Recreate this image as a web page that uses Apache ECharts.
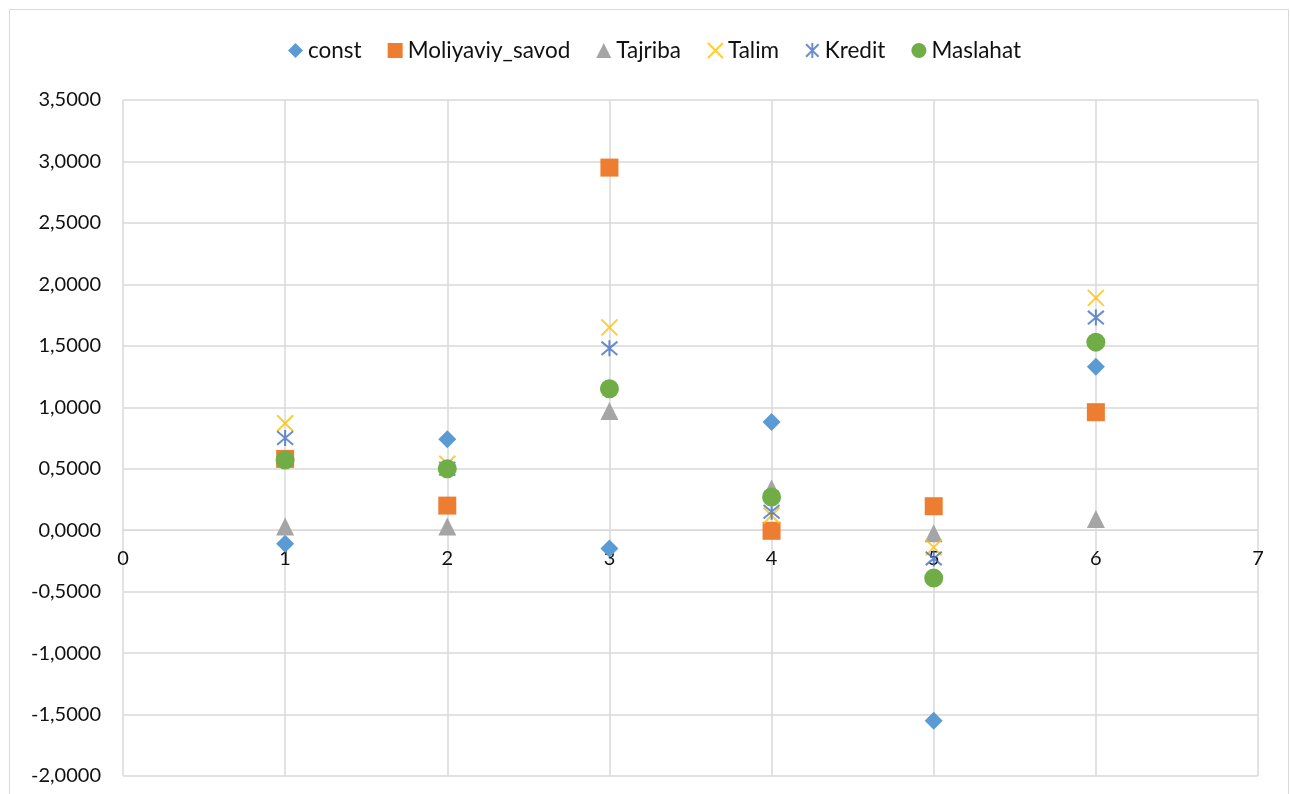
<!DOCTYPE html>
<html style="height: 100%">
<head>
<meta charset="utf-8">
<script src="https://cdn.jsdelivr.net/npm/echarts@6/dist/echarts.min.js"></script>
</head>
<body style="margin: 0">
<div id="container" style="width: 1290px; height: 794px;"></div>
<script type="text/javascript">
// x positions (one per model/observation)
var xs = [1, 2, 3, 4, 5, 6];
var seriesNames = ['const', 'Moliyaviy_savod', 'Tajriba', 'Talim', 'Kredit', 'Maslahat'];
var constVals = [-0.11, 0.74, -0.15, 0.88, -1.55, 1.33];
var moliyaviyVals = [0.58, 0.20, 2.95, -0.005, 0.195, 0.96];
var tajribaVals = [0.03, 0.03, 0.97, 0.34, -0.025, 0.09];
var talimVals = [0.87, 0.54, 1.65, 0.12, -0.14, 1.89];
var kreditVals = [0.75, 0.50, 1.48, 0.15, -0.23, 1.73];
var maslahatVals = [0.57, 0.50, 1.15, 0.27, -0.39, 1.53];

var allVals = [constVals, moliyaviyVals, tajribaVals, talimVals, kreditVals, maslahatVals];
var colors = ['#5B9BD5', '#ED7D31', '#A5A5A5', '#FFC000', '#4472C4', '#70AD47'];
var symbols = ['diamond', 'rect', 'triangle',
    'path://M0,0L10,10M10,0L0,10',
    'path://M0,0L10,10M10,0L0,10M5,-1L5,11',
    'circle'];
var sizes = [18, 18, 18, 16, 16, 19];

var dom = document.getElementById('container');
var myChart = echarts.init(dom);

var series = [];
for (var i = 0; i < seriesNames.length; i++) {
    var pts = [];
    for (var j = 0; j < xs.length; j++) {
        pts.push([xs[j], allVals[i][j]]);
    }
    var stroked = (i == 3 || i == 4);
    series.push({
        name: seriesNames[i],
        type: 'scatter',
        symbol: symbols[i],
        symbolSize: sizes[i],
        data: pts,
        itemStyle: stroked ? {
            color: 'rgba(0,0,0,0)',
            borderColor: colors[i],
            borderWidth: 2
        } : { color: colors[i], opacity: 1 },
        emphasis: { disabled: true }
    });
}

var gridBottom = 18;
var option = {
    animation: false,
    color: colors,
    textStyle: { fontFamily: 'Lato', color: '#111' },
    graphic: [{
        type: 'rect',
        shape: { x: 9.5, y: 9.5, width: 1279, height: 800 },
        style: { fill: 'none', stroke: '#D9D9D9', lineWidth: 1 },
        silent: true
    }],
    legend: {
        top: 34,
        left: 283,
        itemGap: 26,
        itemWidth: 15,
        itemHeight: 15,
        textStyle: { fontSize: 22.5, color: '#111', fontFamily: 'Lato' },
        data: seriesNames
    },
    grid: { left: 123, right: 32, top: 100, bottom: gridBottom, outerBoundsMode: 'none', containLabel: false },
    xAxis: {
        type: 'value',
        min: 0,
        max: 7,
        interval: 1,
        position: 'bottom',
        axisLine: { onZero: false, lineStyle: { color: '#D9D9D9', width: 1 } },
        axisTick: { show: false },
        axisLabel: { fontSize: 20, color: '#111', margin: 18 },
        splitLine: { show: true, lineStyle: { color: '#D9D9D9', width: 1.5 } }
    },
    yAxis: {
        type: 'value',
        min: -2,
        max: 3.5,
        interval: 0.5,
        axisLine: { show: false, onZero: false },
        axisTick: { show: false },
        axisLabel: {
            fontSize: 20,
            color: '#111',
            margin: 22,
            formatter: function (v) { return v.toFixed(4).replace('.', ','); }
        },
        splitLine: { show: true, lineStyle: { color: '#D9D9D9', width: 1.5 } }
    },
    series: series
};

myChart.setOption(option, true);

// move the x axis (line + labels) up to y = 0, like Excel does
var zeroY = myChart.convertToPixel({ yAxisIndex: 0 }, 0);
var bottomY = myChart.convertToPixel({ yAxisIndex: 0 }, -2);
myChart.setOption({ xAxis: { offset: zeroY - bottomY } });
</script>
</body>
</html>
